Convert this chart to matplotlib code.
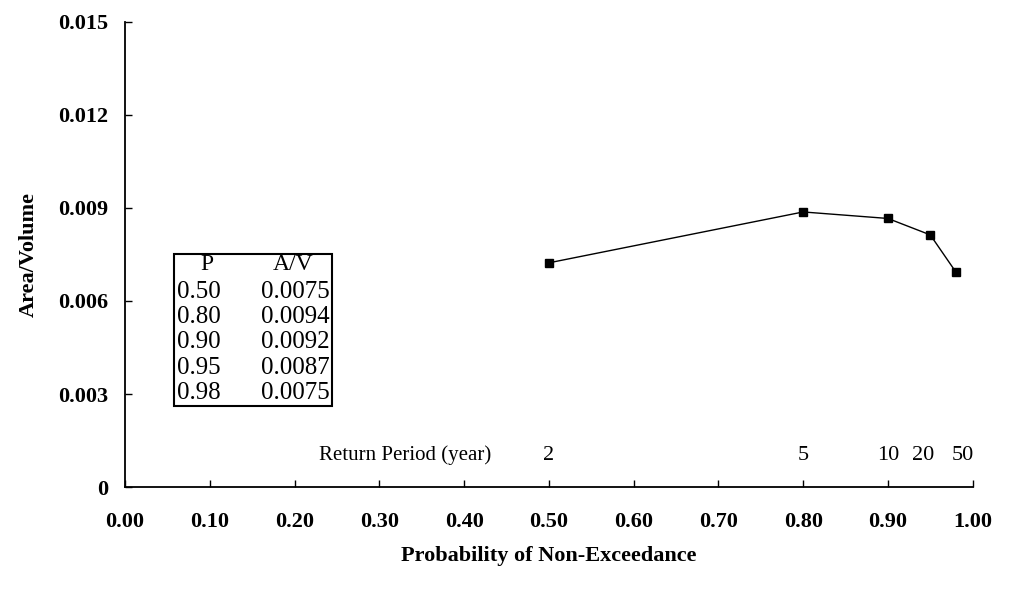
import matplotlib.pyplot as plt
from matplotlib.patches import Rectangle

# values
prob = [0.50, 0.80, 0.90, 0.95, 0.98]
area_vol = [0.00723, 0.00887, 0.00866, 0.00813, 0.00694]

# inset table text
tab_p = ["0.50", "0.80", "0.90", "0.95", "0.98"]
tab_av = ["0.0075", "0.0094", "0.0092", "0.0087", "0.0075"]

# return period labels
rp_x = [0.50, 0.80, 0.90, 0.95, 0.98]
rp_labels = ["2", "5", "10", "20", "50"]
rp_shift = [0, 0, 0, -5, 5]  # points, keeps 20 and 50 apart

xticks = [i / 10 for i in range(11)]
yticks = [0, 0.003, 0.006, 0.009, 0.012, 0.015]
ytick_labels = ["0", "0.003", "0.006", "0.009", "0.012", "0.015"]

plt.rcParams['font.family'] = ['Liberation Serif', 'DejaVu Serif']

fig = plt.figure(figsize=(10.09, 5.89), dpi=100)
ax = fig.add_axes([0.124, 0.173, 0.84, 0.79])

ax.plot(prob, area_vol, color="black", lw=1.0, marker="s", ms=6,
        markerfacecolor="black", markeredgecolor="black")

ax.set_xlim(0, 1.0)
ax.set_ylim(0, 0.015)
ax.spines["top"].set_visible(False)
ax.spines["right"].set_visible(False)
for s in ("left", "bottom"):
    ax.spines[s].set_linewidth(1.3)

ax.set_xticks(xticks)
ax.set_xticklabels(["%.2f" % t for t in xticks])
ax.set_yticks(yticks)
ax.set_yticklabels(ytick_labels)
ax.tick_params(axis="both", direction="in", length=5, width=1, labelsize=16)
ax.tick_params(axis="x", pad=18)
ax.tick_params(axis="y", pad=12)
for lab in ax.get_xticklabels() + ax.get_yticklabels():
    lab.set_fontweight("bold")

ax.set_xlabel("Probability of Non-Exceedance", fontsize=16, fontweight="bold", labelpad=10)
ax.set_ylabel("Area/Volume", fontsize=16, fontweight="bold", labelpad=14)

# return period scale drawn along the x axis
for x, lab, dx in zip(rp_x, rp_labels, rp_shift):
    ax.annotate(lab, (x, 0.0007), xytext=(dx, 0), textcoords="offset points",
                ha="center", va="bottom", fontsize=16)
ax.text(0.33, 0.0007, "Return Period (year)", ha="center", va="bottom", fontsize=15)

# inset table
bx0, bx1 = 0.058, 0.244
by0, by1 = 0.00263, 0.00753
ax.add_patch(Rectangle((bx0, by0), bx1 - bx0, by1 - by0, fill=False,
                       lw=1.5, ec="black", zorder=3))
row_h = (by1 - by0) / 6
ax.text(0.096, by1 - 0.45 * row_h, "P", ha="center", va="center", fontsize=17)
ax.text(0.198, by1 - 0.45 * row_h, "A/V", ha="center", va="center", fontsize=17)
for i, (p, av) in enumerate(zip(tab_p, tab_av)):
    y = by1 - (i + 1.5) * row_h
    ax.text(0.061, y, p, ha="left", va="center", fontsize=18)
    ax.text(0.241, y, av, ha="right", va="center", fontsize=18)

fig.savefig("out.png", dpi=100)
